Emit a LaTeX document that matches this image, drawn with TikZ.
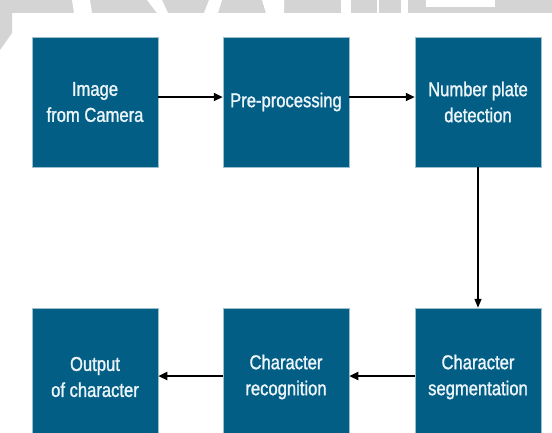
\documentclass[tikz,border=0pt]{standalone}
\usepackage{fontspec}
\setmainfont{Liberation Sans}[FakeStretch=0.84]
\newfontfamily\boxfont{Liberation Sans}[FakeStretch=0.83,FakeBold=1.3]
\usetikzlibrary{arrows.meta}
\definecolor{boxblue}{RGB}{3,94,133}
\definecolor{wmgray}{RGB}{212,212,212}
\definecolor{txtwhite}{RGB}{236,246,250}
\tikzset{
  stagebox/.style={rectangle, fill=boxblue, draw=boxblue!40!white, line width=0.5pt,
    minimum width=126pt, minimum height=130pt, inner sep=0pt,
    text=txtwhite, align=center, font=\boxfont\fontsize{20}{26}\selectfont},
  lowbox/.style={stagebox, minimum height=138pt},
  flow/.style={-{Triangle[length=9pt,width=8pt]}, line width=2.2pt, black},
  vflow/.style={-{Triangle[length=9pt,width=7pt]}, line width=1.4pt, black}
}
\begin{document}
\begin{tikzpicture}[x=1pt,y=-1pt]
\useasboundingbox (0,0) rectangle (552,432);
\fill[white] (0,0) rectangle (552,432);
% watermark remnants at the top
\fill[wmgray] (0,0) rectangle (552,13);
\fill[wmgray] (0,13) -- (12,13) -- (12,33) -- (0,50) -- cycle;
\fill[white] (72,0) -- (90,0) -- (92,13) -- (74,13) -- cycle;
\fill[white] (147,0) -- (162,0) -- (168,13) -- (157,13) -- cycle;
\fill[white] (209,0) -- (222,0) -- (218,13) -- (204,13) -- cycle;
\fill[white] (262,0) -- (284,0) -- (284,13) -- (266,13) -- cycle;
\fill[white] (341,0) -- (351,0) -- (351,13) -- (341,13) -- cycle;
\fill[white] (377,0) -- (379,0) -- (379,13) -- (377,13) -- cycle;
\fill[white] (401,0) -- (408,0) -- (408,13) -- (401,13) -- cycle;
\fill[white] (426,0) -- (495,0) -- (495,7) -- (426,7) -- cycle;

\node[stagebox] (img) at (95,102) {Image\\from Camera};
\node[stagebox] (pre) at (286,102) {Pre-processing};
\node[stagebox] (npd) at (478,102) {Number plate\\detection};
\node[lowbox] (seg) at (478,377) {Character\\segmentation};
\node[lowbox] (rec) at (286,377) {Character\\recognition};
\node[lowbox] (out) at (95,377) {Output\\of character};

\draw[flow] ([yshift=5pt]img.east) -- ([yshift=5pt]pre.west);
\draw[flow] ([yshift=5pt]pre.east) -- ([yshift=5pt]npd.west);
\draw[vflow] (npd.south) -- (seg.north);
\draw[flow] ([yshift=1pt]seg.west) -- ([yshift=1pt]rec.east);
\draw[flow] ([yshift=1pt]rec.west) -- ([yshift=1pt]out.east);
\end{tikzpicture}
\end{document}
